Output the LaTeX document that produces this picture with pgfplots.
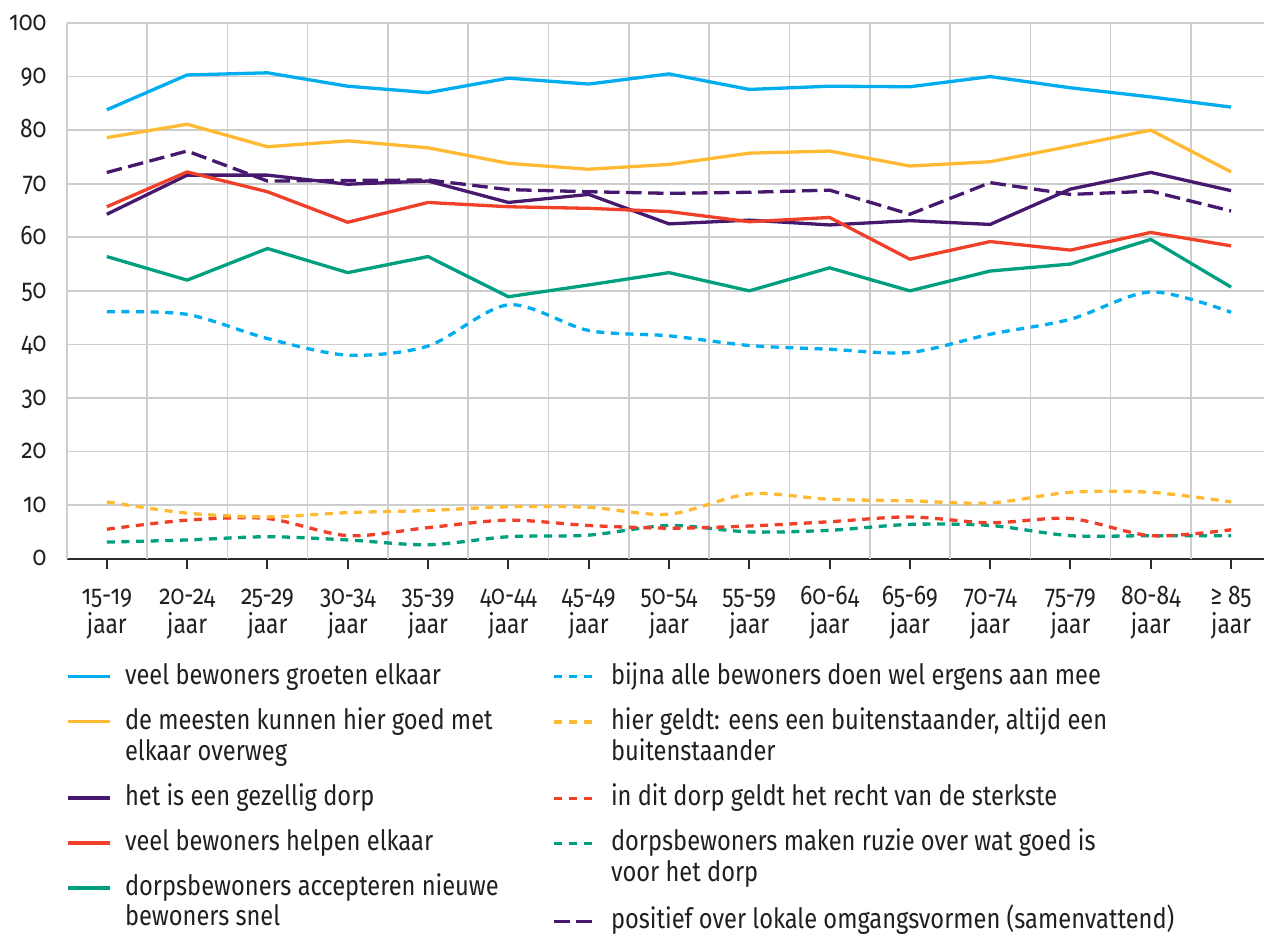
\documentclass[border=0pt]{standalone}
\usepackage{fontspec}
\setmainfont{Fira Sans}[Numbers=OldStyle, FakeStretch=0.845]
\usepackage{pgfplots}
\usepackage{pgfplotstable}
\pgfplotsset{compat=1.18}
\definecolor{cblue}{HTML}{00AEEF}
\definecolor{corange}{HTML}{FFB933}
\definecolor{cpurple}{HTML}{47196E}
\definecolor{cred}{HTML}{F0402A}
\definecolor{cgreen}{HTML}{00A07F}
\definecolor{gridc}{HTML}{CDCDCD}
\definecolor{axisc}{HTML}{2E2A2B}
\definecolor{textc}{HTML}{231F20}
\newcommand\xl[1]{\begin{tabular}[t]{@{}c@{}}#1\\jaar\end{tabular}}
\newcommand\lfirst[1]{#1\strut}
\newcommand\llast[1]{#1\strut\rule[-23.3pt]{0pt}{1pt}}
\newcommand\lend[1]{#1\rule[-6pt]{0pt}{21.7pt}}
\pgfplotstableread{
x  b    o    p    r    g    bd   od   rd   gd   pd
0  83.8 78.6 64.3 65.7 56.4 46.1 10.6 5.5 3.1 72.1
1  90.3 81.1 71.6 72.2 52.0 45.6 8.5  7.2 3.5 76.1
2  90.7 76.9 71.6 68.5 57.9 41.1 7.8  7.5 4.1 70.5
3  88.2 78.0 69.9 62.8 53.4 38.0 8.6  4.3 3.5 70.6
4  87.0 76.7 70.5 66.5 56.4 39.7 9.0  5.8 2.6 70.7
5  89.7 73.8 66.5 65.7 48.9 47.4 9.7  7.2 4.1 68.9
6  88.6 72.7 68.0 65.4 51.1 42.6 9.6  6.2 4.4 68.5
7  90.5 73.6 62.5 64.8 53.4 41.6 8.3  5.7 6.2 68.2
8  87.6 75.7 63.2 62.9 50.0 39.8 12.1 6.1 5.0 68.4
9  88.2 76.1 62.3 63.7 54.3 39.1 11.1 6.9 5.3 68.8
10 88.1 73.3 63.1 55.9 50.0 38.5 10.8 7.8 6.4 64.3
11 90.0 74.1 62.4 59.2 53.7 41.9 10.4 6.7 6.2 70.2
12 87.9 77.0 69.0 57.6 55.0 44.7 12.4 7.5 4.3 68.0
13 86.2 80.0 72.1 60.9 59.6 49.8 12.4 4.3 4.3 68.6
14 84.3 72.2 68.7 58.4 50.7 46.0 10.6 5.4 4.3 64.9
}\data
\pgfplotsset{
  legbox/.style={hide axis, scale only axis, width=10pt, height=10pt,
    xmin=0, xmax=1, ymin=0, ymax=1, anchor=north west,
    legend cell align=left,
    legend image code/.code={\draw[##1, line cap=butt] (0pt,7.5pt) -- (41.6pt,7.5pt);},
    legend style={at={(0,1)}, anchor=north west, draw=none, fill=none,
      inner sep=0pt, outer sep=0pt, row sep=0pt, column sep=13.4pt,
      cells={anchor=base west},
      nodes={inner sep=0pt, outer sep=0pt, text depth=, text height=, text=textc,
        font=\fontsize{28}{31}\selectfont}}},
  dotl/.style={line width=3.3pt, dash pattern=on 8pt off 6.6pt},
  dashl/.style={line width=3.3pt, dash pattern=on 15.5pt off 6.5pt},
}
\begin{document}
\begin{tikzpicture}
\useasboundingbox (0,0) rectangle (1264pt,935pt);
\begin{axis}[
  at={(66.7pt,376.3pt)}, anchor=south west,
  scale only axis, width=1197.3pt, height=535.7pt,
  xmin=-0.5, xmax=14.41, ymin=0, ymax=100,
  axis x line*=bottom, axis y line*=left,
  x axis line style={draw=axisc, line width=2pt, -},
  y axis line style={draw=none},
  xtick={0,...,14},
  xticklabels={\xl{15-19},\xl{20-24},\xl{25-29},\xl{30-34},\xl{35-39},\xl{40-44},\xl{45-49},\xl{50-54},\xl{55-59},\xl{60-64},\xl{65-69},\xl{70-74},\xl{75-79},\xl{80-84},\xl{≥ 85}},
  extra x ticks={-0.5,0.5,1.5,2.5,3.5,4.5,5.5,6.5,7.5,8.5,9.5,10.5,11.5,12.5,13.5},
  extra x tick labels={},
  extra x tick style={grid=major, major tick length=0pt, tick style={draw=none}},
  ytick={0,10,...,100},
  ymajorgrids=true, xmajorgrids=false,
  grid style={draw=gridc, line width=1.6pt},
  xtick align=outside, ytick align=inside,
  major tick length=10.7pt,
  xtick style={draw=axisc, line width=2pt},
  ytick style={draw=none},
  /pgf/number format/assume math mode=true,
  xticklabel style={anchor=base, yshift=-35pt, inner sep=0pt, text=textc, font=\fontsize{27}{26.7}\selectfont},
  yticklabel style={anchor=base east, xshift=-20pt, yshift=-7.3pt, inner sep=0pt, text=textc, font=\fontsize{27}{30}\selectfont},
  no markers, line join=round,
]
\addplot[cgreen, dotl, smooth] table[x=x,y=gd]{\data};
\addplot[cred, dotl, smooth] table[x=x,y=rd]{\data};
\addplot[corange, dotl, smooth] table[x=x,y=od]{\data};
\addplot[cblue, dotl, smooth] table[x=x,y=bd]{\data};
\addplot[cgreen, line width=3.3pt] table[x=x,y=g]{\data};
\addplot[cpurple, line width=3.3pt] table[x=x,y=p]{\data};
\addplot[cpurple, dashl] table[x=x,y=pd]{\data};
\addplot[cred, line width=3.3pt] table[x=x,y=r]{\data};
\addplot[corange, line width=3.3pt] table[x=x,y=o]{\data};
\addplot[cblue, line width=3.3pt] table[x=x,y=b]{\data};
\end{axis}
\begin{axis}[legbox, at={(66.7pt,272.5pt)}]
\addlegendimage{cblue, line width=3.3pt}
\addlegendentry{\llast{veel bewoners groeten elkaar}}
\addlegendimage{corange, line width=3.3pt}
\addlegendentry{\lfirst{de meesten kunnen hier goed met}}
\addlegendimage{empty legend}
\addlegendentry{\llast{elkaar overweg}}
\addlegendimage{cpurple, line width=3.3pt}
\addlegendentry{\llast{het is een gezellig dorp}}
\addlegendimage{cred, line width=3.3pt}
\addlegendentry{\llast{veel bewoners helpen elkaar}}
\addlegendimage{cgreen, line width=3.3pt}
\addlegendentry{\lfirst{dorpsbewoners accepteren nieuwe}}
\addlegendimage{empty legend}
\addlegendentry{\lend{bewoners snel}}
\end{axis}
\begin{axis}[legbox, at={(552.7pt,272.5pt)}]
\addlegendimage{cblue, dotl}
\addlegendentry{\llast{bijna alle bewoners doen wel ergens aan mee}}
\addlegendimage{corange, dotl}
\addlegendentry{\lfirst{hier geldt: eens een buitenstaander, altijd een}}
\addlegendimage{empty legend}
\addlegendentry{\llast{buitenstaander}}
\addlegendimage{cred, dotl}
\addlegendentry{\llast{in dit dorp geldt het recht van de sterkste}}
\addlegendimage{cgreen, dotl}
\addlegendentry{\lfirst{dorpsbewoners maken ruzie over wat goed is}}
\addlegendimage{empty legend}
\addlegendentry{\llast{voor het dorp}}
\addlegendimage{cpurple, dashl}
\addlegendentry{\lend{positief over lokale omgangsvormen (samenvattend)}}
\end{axis}
\end{tikzpicture}
\end{document}
